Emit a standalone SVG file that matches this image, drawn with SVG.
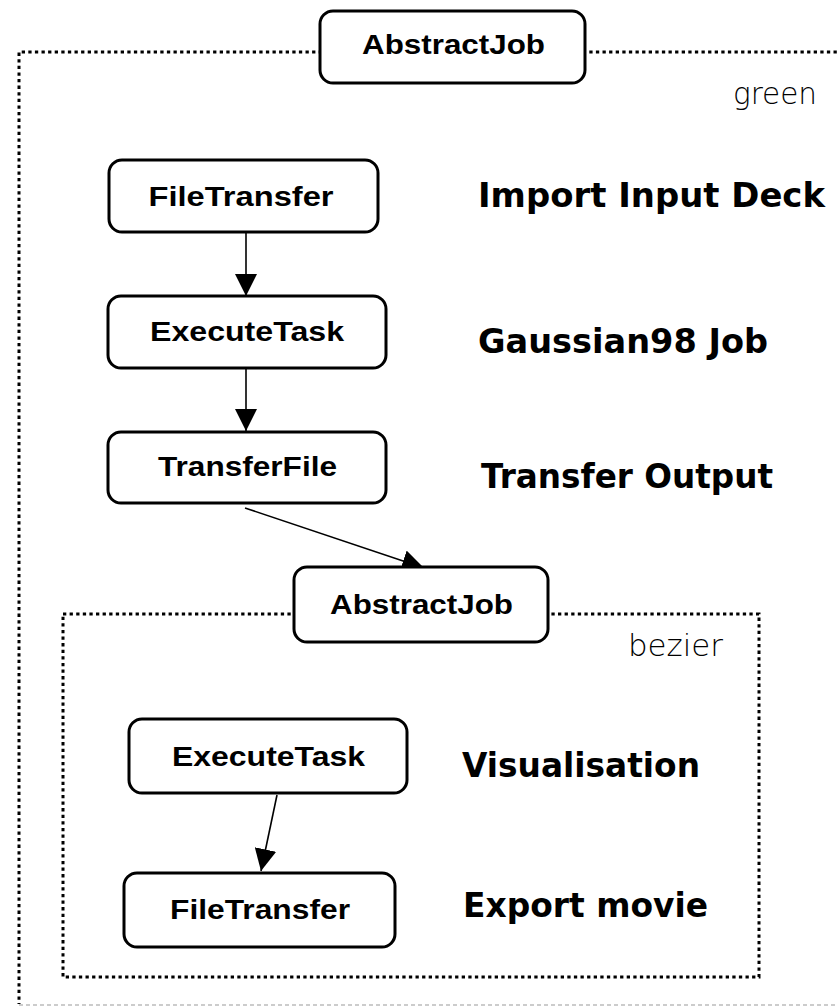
<svg xmlns="http://www.w3.org/2000/svg" width="838" height="1006" viewBox="0 0 838 1006">
  <defs>
    <style>
      .cluster { fill: none; stroke: #000; stroke-width: 3; stroke-dasharray: 3.3 3.3; }
      .edge-bottom { fill: none; stroke: #9a9a9a; stroke-width: 1.2; stroke-dasharray: 4 3; }
      .box { fill: #fff; stroke: #000; stroke-width: 3; }
      .nlabel { font-family: "Liberation Sans", Arial, sans-serif; font-weight: bold; font-size: 28px; fill: #000; text-anchor: middle; }
      .step { font-family: "DejaVu Sans", Verdana, sans-serif; font-weight: bold; font-size: 33px; fill: #000; }
      .tag { font-family: "DejaVu Sans", Verdana, sans-serif; font-weight: 200; font-size: 30px; fill: #000; }
      .edge { fill: none; stroke: #000; stroke-width: 1.6; }
    </style>
    <marker id="arrow" markerUnits="userSpaceOnUse" markerWidth="22" markerHeight="22" viewBox="0 0 20 20" refX="20" refY="10" orient="auto">
      <path d="M0,0 L20,10 L0,20 Z" fill="#000"/>
    </marker>
  </defs>

  <!-- outer cluster "green" -->
  <g id="cluster-green">
    <path class="cluster" d="M 850 52 H 19 V 1004"/>
    <line class="edge-bottom" x1="19" y1="1005" x2="838" y2="1005"/>
    <text class="tag" x="733" y="104" textLength="84" lengthAdjust="spacingAndGlyphs">green</text>
  </g>

  <!-- inner cluster "bezier" -->
  <g id="cluster-bezier">
    <rect class="cluster" x="63" y="614" width="696" height="363"/>
    <text class="tag" x="628" y="656" textLength="95" lengthAdjust="spacingAndGlyphs">bezier</text>
  </g>

  <!-- connectors -->
  <g id="connectors">
    <line class="edge" x1="246" y1="233" x2="246" y2="296" marker-end="url(#arrow)"/>
    <line class="edge" x1="246" y1="369" x2="246" y2="431" marker-end="url(#arrow)"/>
    <line class="edge" x1="245" y1="508" x2="424" y2="568" marker-end="url(#arrow)"/>
    <line class="edge" x1="277" y1="795" x2="261" y2="871" marker-end="url(#arrow)"/>
  </g>

  <!-- step descriptions -->
  <g id="step-labels">
    <text class="step" x="478" y="207" textLength="347" lengthAdjust="spacingAndGlyphs">Import Input Deck</text>
    <text class="step" x="478" y="353" textLength="290" lengthAdjust="spacingAndGlyphs">Gaussian98 Job</text>
    <text class="step" x="481" y="488" textLength="292" lengthAdjust="spacingAndGlyphs">Transfer Output</text>
    <text class="step" x="462" y="777" textLength="238" lengthAdjust="spacingAndGlyphs">Visualisation</text>
    <text class="step" x="463" y="917" textLength="245" lengthAdjust="spacingAndGlyphs">Export movie</text>
  </g>

  <!-- nodes -->
  <g id="node-abstractjob-top">
    <rect class="box" x="320" y="11" width="265" height="72" rx="13"/>
    <text class="nlabel" x="453.5" y="54" textLength="183" lengthAdjust="spacingAndGlyphs">AbstractJob</text>
  </g>
  <g id="node-filetransfer-import">
    <rect class="box" x="109" y="160" width="269" height="72" rx="13"/>
    <text class="nlabel" x="241" y="206" textLength="185" lengthAdjust="spacingAndGlyphs">FileTransfer</text>
  </g>
  <g id="node-executetask-gaussian">
    <rect class="box" x="108" y="296" width="278" height="72" rx="13"/>
    <text class="nlabel" x="247" y="341" textLength="194" lengthAdjust="spacingAndGlyphs">ExecuteTask</text>
  </g>
  <g id="node-transferfile-output">
    <rect class="box" x="108" y="432" width="278" height="71" rx="13"/>
    <text class="nlabel" x="247.5" y="476" textLength="179" lengthAdjust="spacingAndGlyphs">TransferFile</text>
  </g>
  <g id="node-abstractjob-inner">
    <rect class="box" x="294" y="567" width="254" height="75" rx="13"/>
    <text class="nlabel" x="421.5" y="614" textLength="183" lengthAdjust="spacingAndGlyphs">AbstractJob</text>
  </g>
  <g id="node-executetask-visual">
    <rect class="box" x="129" y="719" width="278" height="74" rx="13"/>
    <text class="nlabel" x="268.5" y="766" textLength="193" lengthAdjust="spacingAndGlyphs">ExecuteTask</text>
  </g>
  <g id="node-filetransfer-export">
    <rect class="box" x="124" y="873" width="271" height="74" rx="13"/>
    <text class="nlabel" x="260" y="919" textLength="180" lengthAdjust="spacingAndGlyphs">FileTransfer</text>
  </g>
</svg>
